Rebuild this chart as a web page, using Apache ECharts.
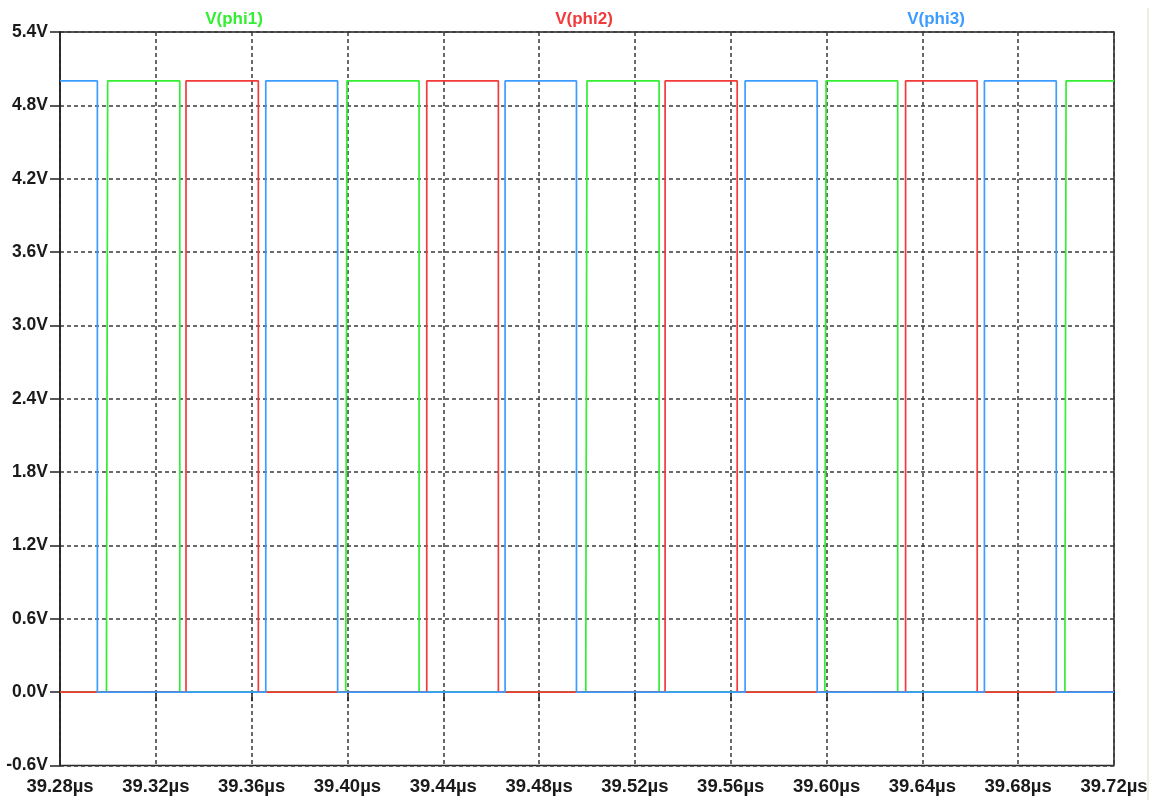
<!DOCTYPE html>
<html>
<head>
<meta charset="utf-8">
<script src="https://cdn.jsdelivr.net/npm/echarts@6/dist/echarts.min.js"></script>
<style>
html,body{margin:0;padding:0;background:#fff;}
#chart{width:1158px;height:800px;}
</style>
</head>
<body>
<div id="chart"></div>
<script>
// ---- Data (times in µs, voltages in V) ----
const seriesNames = ['V(phi1)', 'V(phi2)', 'V(phi3)'];
const seriesColors = ['#33ee33', '#f23a3a', '#3d9cff'];

const highLevel = 5.0;
const lowLevel = 0.0;
const tStart = 39.28;
const tEnd = 39.72;

// phi1 (green): starts low; rising edge has a small foot at 0.25 V
const phi1Start = 0;
const phi1RiseFoot = [39.2994, 39.3993, 39.4995, 39.5993, 39.6995];
const phi1RiseTop  = [39.2999, 39.3998, 39.5000, 39.5998, 39.7000];
const phi1FootLevel = 0.25;
const phi1Fall = [39.3300, 39.4299, 39.5301, 39.6297];

// phi2 (red): starts low
const phi2Start = 0;
const phi2Rise = [39.3326, 39.4331, 39.5326, 39.6330];
const phi2Fall = [39.3628, 39.4630, 39.5627, 39.6629];

// phi3 (blue): starts high
const phi3Start = 5;
const phi3Fall = [39.2956, 39.3959, 39.4956, 39.5961, 39.6959];
const phi3Rise = [39.3659, 39.4658, 39.5660, 39.6659];

const xTicks = ['39.28µs','39.32µs','39.36µs','39.40µs','39.44µs','39.48µs','39.52µs','39.56µs','39.60µs','39.64µs','39.68µs','39.72µs'];
const yTicks = ['-0.6V','0.0V','0.6V','1.2V','1.8V','2.4V','3.0V','3.6V','4.2V','4.8V','5.4V'];

// ---- Build step waveforms from the edge lists ----
function buildWave(startLevel, edges) {
  edges.sort((a, b) => a.t - b.t);
  const pts = [[tStart, startLevel]];
  let level = startLevel;
  edges.forEach(e => {
    pts.push([e.steps[0][0], level]);
    e.steps.forEach(s => pts.push(s));
    level = e.steps[e.steps.length - 1][1];
  });
  pts.push([tEnd, level]);
  return pts;
}
const e1 = [];
phi1RiseFoot.forEach((t, i) => e1.push({t, steps: [[t, lowLevel], [t, phi1FootLevel], [phi1RiseTop[i], phi1FootLevel], [phi1RiseTop[i], highLevel]]}));
phi1Fall.forEach(t => e1.push({t, steps: [[t, highLevel], [t, lowLevel]]}));
const e2 = [];
phi2Rise.forEach(t => e2.push({t, steps: [[t, lowLevel], [t, highLevel]]}));
phi2Fall.forEach(t => e2.push({t, steps: [[t, highLevel], [t, lowLevel]]}));
const e3 = [];
phi3Rise.forEach(t => e3.push({t, steps: [[t, lowLevel], [t, highLevel]]}));
phi3Fall.forEach(t => e3.push({t, steps: [[t, highLevel], [t, lowLevel]]}));

const waves = [buildWave(phi1Start, e1), buildWave(phi2Start, e2), buildWave(phi3Start, e3)];

// ---- Chart ----
const chart = echarts.init(document.getElementById('chart'), null, {renderer: 'canvas'});
const gridL = 60, gridR = 44, gridT = 32, gridB = 34.5;
const labelFont = 'Liberation Sans, Arial, sans-serif';
const gridLineStyle = {color: '#3a3a3a', width: 1.5, type: [4, 3]};

chart.setOption({
  backgroundColor: '#ffffff',
  animation: false,
  grid: {left: gridL, right: gridR, top: gridT, bottom: gridB, show: true, borderColor: '#222', borderWidth: 1.5, backgroundColor: 'transparent'},
  xAxis: {
    type: 'value', min: 39.28, max: 39.72, interval: 0.04,
    axisLine: {show: true, lineStyle: {color: '#222', width: 1.5}},
    axisTick: {show: true, length: 9, lineStyle: {color: '#222', width: 1.5}},
    axisLabel: {
      margin: 12, color: '#1a1a1a', fontSize: 18.5, fontWeight: 'bold', fontFamily: labelFont,
      formatter: v => xTicks[Math.round((v - 39.28) / 0.04)]
    },
    splitLine: {show: true, lineStyle: gridLineStyle}
  },
  yAxis: {
    type: 'value', min: -0.6, max: 5.4, interval: 0.6,
    axisLine: {show: true, lineStyle: {color: '#222', width: 1.5}},
    axisTick: {show: true, length: 10, lineStyle: {color: '#222', width: 1.5}},
    axisLabel: {
      margin: 12, color: '#1a1a1a', fontSize: 17.5, fontWeight: 'bold', fontFamily: labelFont,
      formatter: v => yTicks[Math.round((v + 0.6) / 0.6)]
    },
    splitLine: {show: true, lineStyle: gridLineStyle}
  },
  graphic: [
    {type: 'text', x: 234, y: 19, style: {text: seriesNames[0], fill: seriesColors[0], font: 'bold 17px Liberation Sans, Arial, sans-serif', textAlign: 'center', textVerticalAlign: 'middle'}},
    {type: 'text', x: 584, y: 19, style: {text: seriesNames[1], fill: seriesColors[1], font: 'bold 17px Liberation Sans, Arial, sans-serif', textAlign: 'center', textVerticalAlign: 'middle'}},
    {type: 'text', x: 936, y: 19, style: {text: seriesNames[2], fill: seriesColors[2], font: 'bold 17px Liberation Sans, Arial, sans-serif', textAlign: 'center', textVerticalAlign: 'middle'}},
    {type: 'rect', shape: {x: 1147, y: 8, width: 2, height: 792}, style: {fill: '#efece6'}, silent: true}
  ],
  series: waves.map((w, i) => ({
    name: seriesNames[i], type: 'line', data: w, showSymbol: false, symbol: 'none',
    lineStyle: {color: seriesColors[i], width: 1.7}, z: 3 + i, clip: true
  }))
});
</script>
</body>
</html>
